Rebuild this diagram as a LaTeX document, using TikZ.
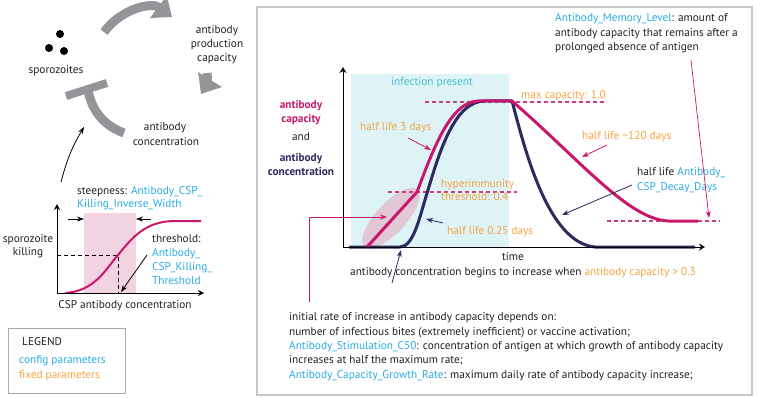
\documentclass[tikz,border=0pt]{standalone}
\usepackage{fontspec}
\setmainfont{PT Sans}
\usetikzlibrary{arrows.meta}
\definecolor{cblue}{RGB}{41,171,226}
\definecolor{corange}{RGB}{246,163,62}
\definecolor{cmag}{RGB}{200,24,110}
\definecolor{cnavy}{RGB}{44,42,96}
\definecolor{ccyan}{RGB}{221,243,246}
\definecolor{cteal}{RGB}{70,192,202}
\definecolor{cpink}{RGB}{241,211,226}
\definecolor{cell}{RGB}{226,200,212}
\definecolor{cgray}{RGB}{148,149,153}
\definecolor{cdash}{RGB}{205,60,130}
\definecolor{ctext}{RGB}{35,31,32}
\begin{document}
\begin{tikzpicture}[x=1pt,y=-1pt,
  every node/.style={inner sep=0pt, text height=7pt, text depth=2pt, font=\fontsize{11.3}{13}\selectfont, text=ctext},
  lbl/.style={anchor=west},
  bold/.style={font=\fontsize{11.3}{13}\selectfont\bfseries},
  tarrow/.style={line width=0.8pt, -{Stealth[length=7pt,width=5pt]}},
  band/.style={line width=9pt, draw=cgray},
  bandhead/.style={band, -{Triangle[length=17pt,width=27pt]}},
  dashline/.style={color=cdash, line width=1.2pt, dash pattern=on 4pt off 3pt},
  curve/.style={line width=3pt, line join=round},
]
\useasboundingbox (0,0) rectangle (757,398);

% ---------------- left: cycle ----------------
\fill (60,34) circle (4) (49,48) circle (4) (64,51) circle (4);
\node (spz) at (56,71) {sporozoites};
\node (apc1) at (217,31) {antibody};
\node (apc2) at (217,45) {production};
\node (apc3) at (217,59) {capacity};
\node (ac1) at (165,128) {antibody};
\node (ac2) at (166,143) {concentration};
\draw[bandhead] (104,32) .. controls (122,8) and (152,2) .. (172,17);
\draw[bandhead] (207,73) .. controls (208,80) and (206,86) .. (201,94);
\draw[band] (124,133) .. controls (105,126) and (92,112) .. (88,90);
\draw[band, line width=8pt] (66,96) -- (107,83);
\coordinate (kt) at (61,182);
\coordinate (kh) at (84,127);
\draw[tarrow, draw=black] (kt) to[bend left=8] (kh);

% ---------------- left: sigmoid ----------------
\fill[cpink] (84,213) rectangle (136,293);
\draw[line width=0.8pt, dash pattern=on 4pt off 3pt] (57,255) -- (118,255) -- (118,293);
\draw[line width=2pt, draw=cmag] (65,293) .. controls (95,291) and (105,270) .. (118,255) .. controls (132,238) and (145,221) .. (175,221) -- (201,221);
\draw[line width=1pt, -{Stealth[length=6pt,width=6pt,open]}] (57,293) -- (57,204);
\draw[line width=1pt, -{Stealth[length=6pt,width=6pt,open]}] (57,293) -- (204,293);
\coordinate (sl1) at (68,219); \coordinate (sl2) at (84,219);
\coordinate (sr1) at (151,219); \coordinate (sr2) at (136,219);
\draw[tarrow] (sl1) -- (sl2);
\draw[tarrow] (sr1) -- (sr2);
\node[lbl] (st1) at (77,192) {steepness: \textcolor{cblue}{Antibody\_CSP\_}};
\node[lbl] (st2) at (77,205) {\textcolor{cblue}{Killing\_Inverse\_Width}};
\node (sk1) at (28,240) {sporozoite};
\node (sk2) at (28,253) {killing};
\node[lbl] (th1) at (152,240) {threshold:};
\node[lbl] (th2) at (152,254) {\textcolor{cblue}{Antibody\_}};
\node[lbl] (th3) at (152,268) {\textcolor{cblue}{CSP\_Killing\_}};
\node[lbl] (th4) at (152,282) {\textcolor{cblue}{Threshold}};
\coordinate (thp) at (121,292);
\draw[tarrow] (147,255) -- (thp);
\node (xl) at (125,306) {CSP antibody concentration};

% ---------------- legend ----------------
\draw[draw=cgray!80, line width=1pt] (8,328) rectangle (125,393);
\node[lbl] (lg) at (22,343) {LEGEND};
\node[lbl] (lg1) at (19,361) {\textcolor{cblue}{config parameters}};
\node[lbl] (lg2) at (19,376) {\textcolor{corange}{fixed parameters}};

% ---------------- right panel ----------------
\draw[draw=black!22, line width=1.5pt] (257,7) rectangle (752,395);
\fill[ccyan] (351,74) rectangle (509,247);
\fill[cell, rotate around={47:(391,218)}] (391,218) ellipse [x radius=39, y radius=15];
\node (inf) at (432,83) {\textcolor{cteal}{infection present}};
\draw[dashline] (425,102) -- (607,102);
\draw[dashline] (388,192) -- (517,192);
\draw[dashline] (607,221) -- (720,221);
% curves
\draw[curve, draw=cnavy] (349,247) -- (400,247) .. controls (414,247) and (420,215) .. (428,190) .. controls (440,150) and (455,101) .. (485,101) -- (512,101) .. controls (525,150) and (548,243) .. (595,247) -- (695,247);
\draw[curve, draw=cmag] (367,247) -- (417,192) .. controls (433,150) and (450,102) .. (478,101) -- (512,101) .. controls (580,160) and (628,219) .. (668,221) -- (698,221);
% axes
\draw[line width=1pt, -{Stealth[length=6pt,width=7pt,open]}] (343,247) -- (343,67);
\draw[line width=1pt, -{Stealth[length=6pt,width=7pt,open]}] (343,247) -- (705,247);
\node (time) at (513,258) {time};
% y label
\node[bold, text=cmag] (yl1) at (301,106) {antibody};
\node[bold, text=cmag] (yl2) at (301,120) {capacity};
\node (yl3) at (301,138) {and};
\node[bold, text=cnavy] (yl4) at (301,159) {antibody};
\node[bold, text=cnavy] (yl5) at (301,173) {concentration};
% annotations
\node[lbl] (maxc) at (521,96) {\textcolor{corange}{max capacity: 1.0}};
\node[lbl] (hl3) at (360,128) {\textcolor{corange}{half life 3 days}};
\coordinate (hl3p) at (431,150);
\draw[tarrow, draw=cmag] (408,138) -- (hl3p);
\node[lbl] (hy1) at (441,185) {\textcolor{corange}{hyperimmunity}};
\node[lbl] (hy2) at (441,198) {\textcolor{corange}{threshold: 0.4}};
\node[lbl] (hl025) at (447,232) {\textcolor{corange}{half life 0.25 days}};
\coordinate (hl025p) at (426,219);
\draw[tarrow, draw=cnavy] (443,223) -- (hl025p);
\node[lbl] (hl120) at (582,137) {\textcolor{corange}{half life \textasciitilde120 days}};
\coordinate (hl120p) at (582,157);
\draw[tarrow, draw=cmag] (607,145) -- (hl120p);
\node[lbl] (hd1) at (637,173) {half life \textcolor{cblue}{Antibody\_}};
\node[lbl] (hd2) at (637,188) {\textcolor{cblue}{CSP\_Decay\_Days}};
\coordinate (hdp) at (562,215);
\draw[tarrow, draw=cnavy] (632,185) -- (hdp);
\node[lbl] (mm1) at (555,19) {\textcolor{cblue}{Antibody\_Memory\_Level}: amount of};
\node[lbl] (mm2) at (555,34) {antibody capacity that remains after a};
\node[lbl] (mm3) at (555,48) {prolonged absence of antigen};
\coordinate (mmt) at (691,60);
\coordinate (mmp) at (709,218);
\draw[line width=0.7pt, draw=cmag, -{Stealth[length=7pt,width=5pt]}] (mmt) -- (mmp);
\node[lbl] (beg) at (350,273) {antibody concentration begins to increase when \textcolor{corange}{antibody capacity > 0.3}};
\coordinate (begp) at (401,250);
\draw[tarrow, draw=cnavy] (392,283) -- (begp);
\coordinate (elb0) at (309,302);
\coordinate (elbp) at (387,217);
\draw[line width=0.8pt, draw=cmag, -{Stealth[length=7pt,width=5pt]}] (elb0) |- (elbp);
% bottom text
\node[lbl] (b1) at (289,318) {initial rate of increase in antibody capacity depends on:};
\node[lbl] (b2) at (289,333) {number of infectious bites (extremely inefficient) or vaccine activation;};
\node[lbl] (b3) at (289,347) {\textcolor{cblue}{Antibody\_Stimulation\_C50}: concentration of antigen at which growth of antibody capacity};
\node[lbl] (b4) at (289,361) {increases at half the maximum rate;};
\node[lbl] (b5) at (289,376) {\textcolor{cblue}{Antibody\_Capacity\_Growth\_Rate}: maximum daily rate of antibody capacity increase;};
\end{tikzpicture}
\end{document}
